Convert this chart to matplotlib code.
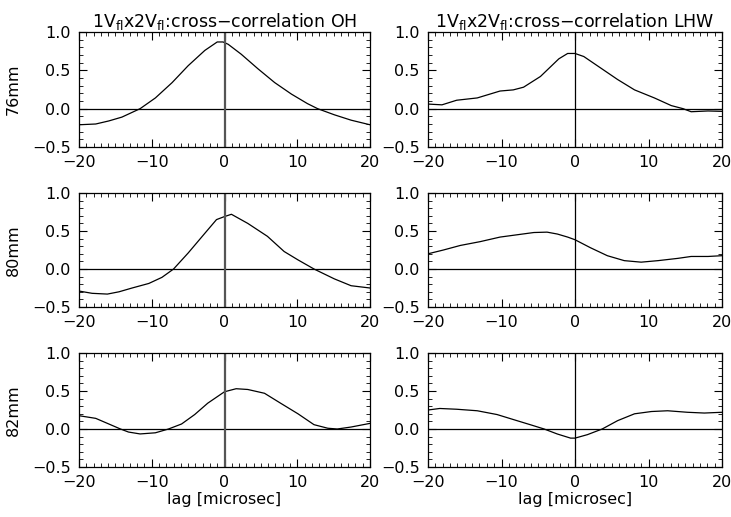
import numpy as np
import matplotlib
matplotlib.use("Agg")
import matplotlib.pyplot as plt
from matplotlib.ticker import MultipleLocator, FuncFormatter

# --------------------------
# Data
# --------------------------

titles = [
    r"1V$_{\rm fl}$x2V$_{\rm fl}$:cross$-$correlation OH",
    r"1V$_{\rm fl}$x2V$_{\rm fl}$:cross$-$correlation LHW",
]
row_labels = ["76mm", "80mm", "82mm"]

lag_oh_76 = [-20, -17.7, -15.9, -14.1, -11.6, -9.5, -7.2, -5.0, -2.7, -1.0, -0.2, 0.5, 2.3, 4.6, 6.9,
             9.2, 11.4, 12.8, 15.1, 17.4, 20]
cc_oh_76 = [-0.21, -0.20, -0.16, -0.11, 0.0, 0.14, 0.34, 0.56, 0.76, 0.87, 0.87, 0.84, 0.71, 0.52, 0.34,
            0.19, 0.066, 0.0, -0.08, -0.15, -0.21]

lag_lhw_76 = [-20, -18.1, -16.1, -13.3, -10.2, -8.4, -7.0, -4.7, -2.2, -1.0, 0, 1.2, 3.5, 5.8, 8.1,
              10.8, 13.1, 14.7, 15.8, 18.1, 20]
cc_lhw_76 = [0.06, 0.05, 0.11, 0.14, 0.23, 0.245, 0.28, 0.42, 0.65, 0.72, 0.72, 0.68, 0.53, 0.38, 0.245,
             0.14, 0.04, 0.0, -0.04, -0.03, -0.035]

lag_oh_80 = [-20, -18.2, -16.1, -14.5, -12.7, -10.4, -8.6, -7.0, -5.0, -2.7, -1.1, 0, 0.95, 3.2, 5.9,
             8.2, 10.1, 12.3, 15.1, 17.4, 20]
cc_oh_80 = [-0.29, -0.32, -0.33, -0.30, -0.25, -0.19, -0.11, 0.0, 0.21, 0.47, 0.65, 0.69, 0.72, 0.60, 0.43,
            0.23, 0.12, 0.0, -0.13, -0.22, -0.25]

lag_lhw_80 = [-20, -17.9, -15.6, -12.9, -10.2, -7.9, -5.6, -3.8, -2.4, -1.0, 0, 2.1, 4.4, 6.7, 9.0,
              11.3, 14.0, 15.8, 18.1, 20]
cc_lhw_80 = [0.20, 0.25, 0.31, 0.36, 0.42, 0.45, 0.48, 0.485, 0.46, 0.42, 0.385, 0.28, 0.175, 0.11, 0.09,
             0.11, 0.14, 0.165, 0.165, 0.175]

lag_oh_82 = [-20, -17.7, -15.9, -14.3, -13.2, -11.6, -9.5, -7.7, -5.9, -4.1, -2.3, 0, 1.6, 3.2, 5.5,
             7.7, 10.1, 12.3, 14.2, 15.5, 17.4, 20]
cc_oh_82 = [0.175, 0.14, 0.066, 0.0, -0.04, -0.065, -0.05, 0.0, 0.066, 0.19, 0.34, 0.49, 0.53, 0.52, 0.47,
            0.34, 0.20, 0.057, 0.01, 0.0, 0.026, 0.074]

lag_lhw_82 = [-20, -18.4, -16.1, -13.3, -10.6, -7.9, -6.1, -4.2, -2.4, -0.6, 0, 1.7, 3.7, 5.8, 8.1,
              10.4, 12.6, 15.3, 17.6, 20]
cc_lhw_82 = [0.25, 0.27, 0.26, 0.24, 0.19, 0.11, 0.057, 0.0, -0.066, -0.12, -0.12, -0.074, 0.0, 0.11, 0.20,
             0.23, 0.24, 0.22, 0.21, 0.22]

series = [
    [(lag_oh_76, cc_oh_76), (lag_lhw_76, cc_lhw_76)],
    [(lag_oh_80, cc_oh_80), (lag_lhw_80, cc_lhw_80)],
    [(lag_oh_82, cc_oh_82), (lag_lhw_82, cc_lhw_82)],
]

# --------------------------
# Layout
# --------------------------

W, H = 731, 517
fig = plt.figure(figsize=(W / 100, H / 100), dpi=100)
plt.rcParams["font.family"] = "DejaVu Sans"

col_x = [(79, 370), (428, 722)]
row_y = [(32, 147), (193, 307), (353, 467)]

minus_fmt = FuncFormatter(lambda v, p: f"{v:.1f}".replace("-", "\u2212"))

for r in range(3):
    for c in range(2):
        x0, x1 = col_x[c]
        y0, y1 = row_y[r]
        ax = fig.add_axes([x0 / W, 1 - y1 / H, (x1 - x0) / W, (y1 - y0) / H])

        lag, cc = series[r][c]
        ax.plot(lag, cc, color="black", lw=0.9)
        ax.axhline(0, color="black", lw=0.9)
        if c == 0:
            ax.axvline(0, color="#555555", lw=1.6)
        else:
            ax.axvline(0, color="black", lw=0.9)

        ax.set_xlim(-20, 20)
        ax.set_ylim(-0.5, 1.0)
        ax.xaxis.set_major_locator(MultipleLocator(10))
        ax.xaxis.set_minor_locator(MultipleLocator(1))
        ax.yaxis.set_major_locator(MultipleLocator(0.5))
        ax.yaxis.set_minor_locator(MultipleLocator(0.1))
        ax.yaxis.set_major_formatter(minus_fmt)
        ax.tick_params(which="both", direction="in", top=True, right=True, labelsize=11.5, pad=6)
        ax.tick_params(which="major", length=6, width=0.8)
        ax.tick_params(which="minor", length=3, width=0.6)
        for s in ax.spines.values():
            s.set_linewidth(0.9)

        if r == 0:
            ax.set_title(titles[c], fontsize=12.5, pad=3)
        if c == 0:
            ax.set_ylabel(row_labels[r], fontsize=11.5, labelpad=8)
        if r == 2:
            ax.set_xlabel("lag [microsec]", fontsize=11.5, labelpad=1)

fig.savefig("out.png", dpi=100)
